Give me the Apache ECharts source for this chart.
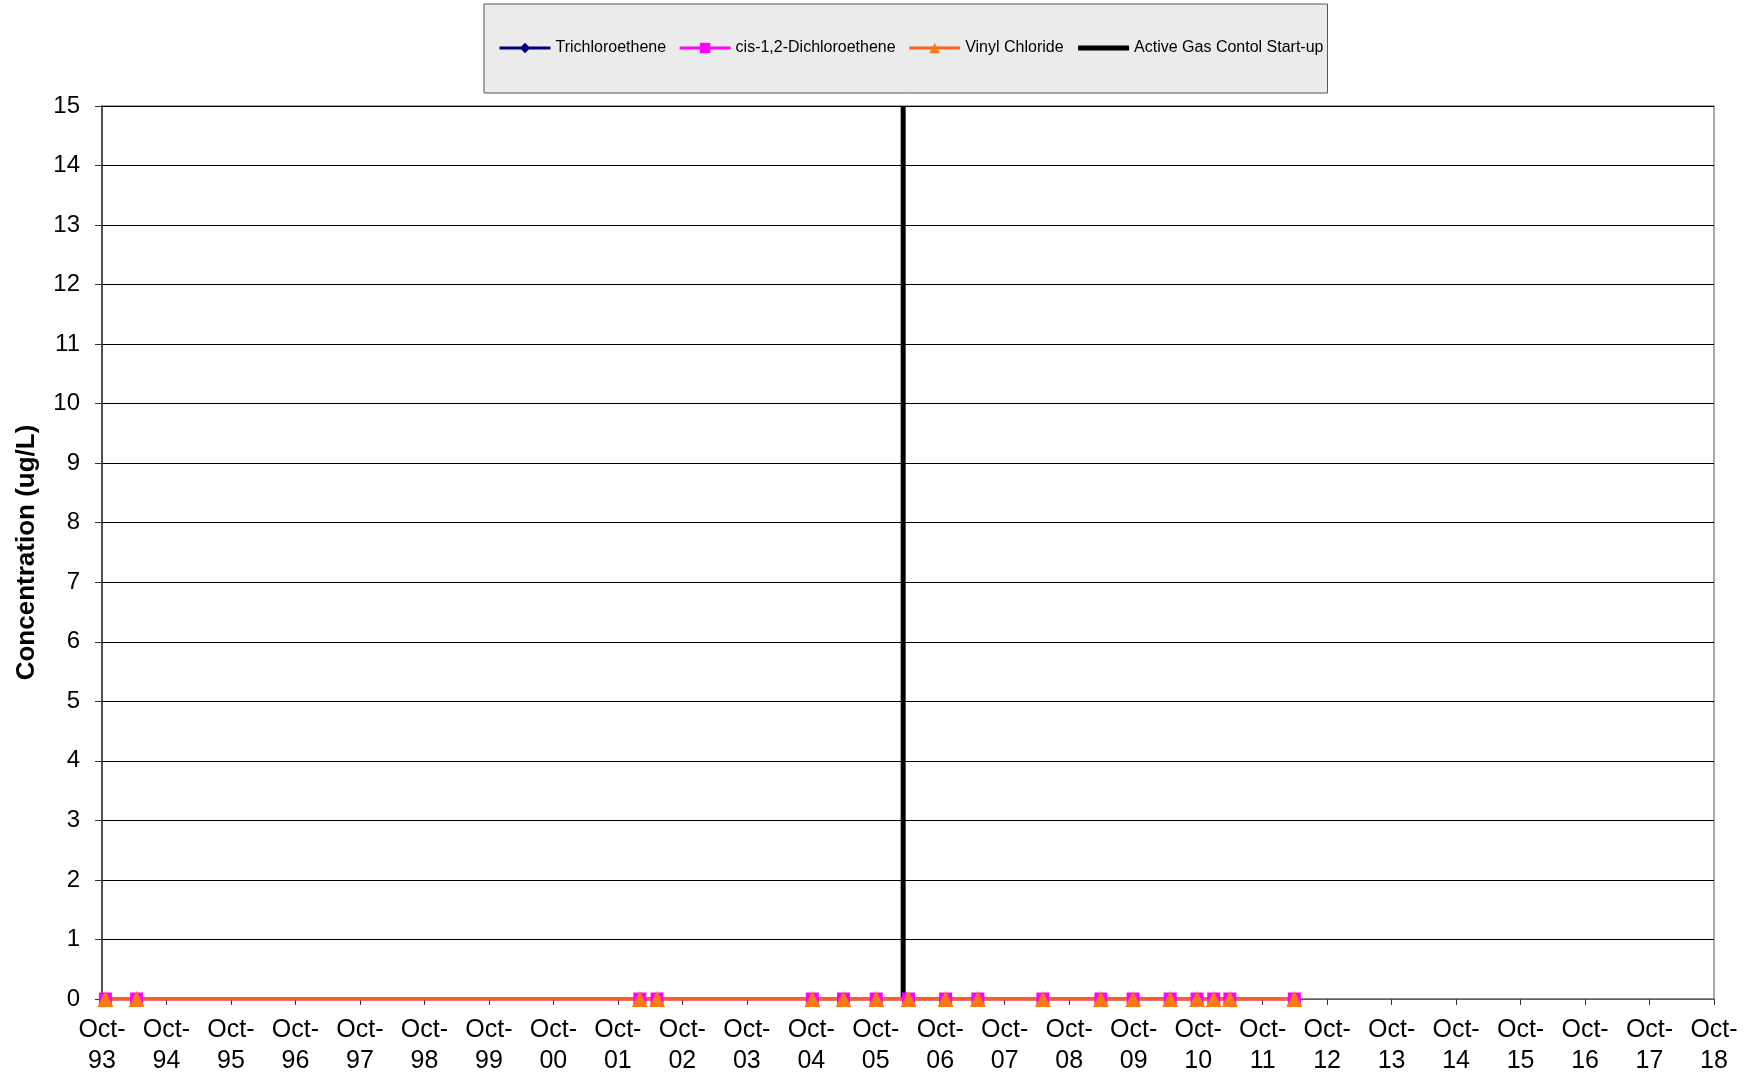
<!DOCTYPE html>
<html>
<head>
<meta charset="utf-8">
<script src="https://cdn.jsdelivr.net/npm/echarts@6/dist/echarts.min.js"></script>
<style>
  html, body { margin: 0; padding: 0; background: #fff; }
  #chart { width: 1754px; height: 1078px; }
</style>
</head>
<body>
<div id="chart"></div>
<script>
// sampling dates and concentrations, ug/L
var sampleDates = [
    '1993-10-20', '1994-04-14', '2002-02-04', '2002-05-10', '2004-10-07',
    '2005-04-01', '2005-10-04', '2006-04-04', '2006-11-01', '2007-05-01',
    '2008-05-04', '2009-03-28', '2009-09-28', '2010-04-25', '2010-09-25',
    '2010-12-28', '2011-03-28', '2012-03-28'
];
var tceValues = [0, 0, 0, 0, 0, 0, 0, 0, 0, 0, 0, 0, 0, 0, 0, 0, 0, 0];
var dceValues = [0, 0, 0, 0, 0, 0, 0, 0, 0, 0, 0, 0, 0, 0, 0, 0, 0, 0];
var vcValues  = [0, 0, 0, 0, 0, 0, 0, 0, 0, 0, 0, 0, 0, 0, 0, 0, 0, 0];

// start-up of active gas control
var startupDate = '2006-03-04';
var startupValues = [0, 15];

// x axis runs in months counted from Oct-93
var axisStartYear = 1993;
var axisMonths = 300; // Oct-93 .. Oct-18

function toMonths(s) {
    var p = s.split('-');
    var y = +p[0], m = +p[1], d = +p[2];
    return (y - axisStartYear) * 12 + (m - 10) + (d - 1) / 30;
}

function pairs(vals) {
    return sampleDates.map(function (d, i) { return [toMonths(d), vals[i]]; });
}

var chart = echarts.init(document.getElementById('chart'));
var font = 'Liberation Sans, Arial, sans-serif';

var option = {
    animation: false,
    backgroundColor: '#fff',
    legend: {
        left: 484,
        top: 4,
        padding: [36, 4, 37, 14],
        backgroundColor: '#ebebeb',
        borderColor: '#555',
        borderWidth: 1,
        itemWidth: 51,
        itemHeight: 13,
        itemGap: 12,
        textStyle: { fontFamily: font, fontSize: 16, color: '#000' },
        lineStyle: { width: 3 },
        data: [
            'Trichloroethene',
            'cis-1,2-Dichloroethene',
            'Vinyl Chloride',
            { name: 'Active Gas Contol Start-up', itemStyle: { opacity: 0 }, lineStyle: { width: 5 } }
        ]
    },
    grid: {
        left: 102,
        right: 40,
        top: 106,
        bottom: 79,
        outerBoundsMode: 'none',
        show: true,
        borderColor: '#8c8c8c',
        borderWidth: 1.5
    },
    xAxis: {
        type: 'value',
        min: 0,
        max: axisMonths,
        interval: 12,
        axisLine: { lineStyle: { color: '#808080', width: 1.5 } },
        axisTick: { length: 6, lineStyle: { color: '#333' } },
        splitLine: { show: false },
        axisLabel: {
            fontFamily: font,
            fontSize: 25,
            color: '#000',
            lineHeight: 31,
            margin: 16,
            formatter: function (v) {
                var yy = (axisStartYear + Math.round(v / 12)) % 100;
                return 'Oct-\n' + (yy < 10 ? '0' + yy : yy);
            }
        }
    },
    yAxis: {
        type: 'value',
        min: 0,
        max: 15,
        interval: 1,
        name: 'Concentration (ug/L)',
        nameLocation: 'middle',
        nameRotate: 90,
        nameGap: 62,
        nameTextStyle: { fontFamily: font, fontSize: 26, fontWeight: 'bold', color: '#000' },
        axisLine: { show: true, lineStyle: { color: '#333', width: 1.5 } },
        axisTick: { show: true, length: 7, lineStyle: { color: '#333' } },
        splitLine: { lineStyle: { color: '#000', width: 1 } },
        axisLabel: { fontFamily: font, fontSize: 24, color: '#000', margin: 22 }
    },
    series: [
        {
            name: 'Trichloroethene',
            type: 'line',
            data: pairs(tceValues),
            symbol: 'diamond',
            symbolSize: 11,
            color: '#000080',
            lineStyle: { width: 3, color: '#000080' },
            itemStyle: { color: '#000080' }
        },
        {
            name: 'cis-1,2-Dichloroethene',
            type: 'line',
            data: pairs(dceValues),
            symbol: 'rect',
            symbolSize: 13,
            color: '#ff00ff',
            lineStyle: { width: 3, color: '#ff00ff' },
            itemStyle: { color: '#ff00ff' }
        },
        {
            name: 'Vinyl Chloride',
            type: 'line',
            data: pairs(vcValues),
            symbol: 'triangle',
            symbolSize: 16,
            color: '#ff7518',
            lineStyle: { width: 3.5, color: '#ff5f1f' },
            itemStyle: { color: '#fb7a14' }
        },
        {
            name: 'Active Gas Contol Start-up',
            type: 'line',
            data: startupValues.map(function (v) { return [toMonths(startupDate), v]; }),
            symbol: 'none',
            color: '#000',
            lineStyle: { width: 5, color: '#000' },
            z: 1
        }
    ]
};

chart.setOption(option);
</script>
</body>
</html>
